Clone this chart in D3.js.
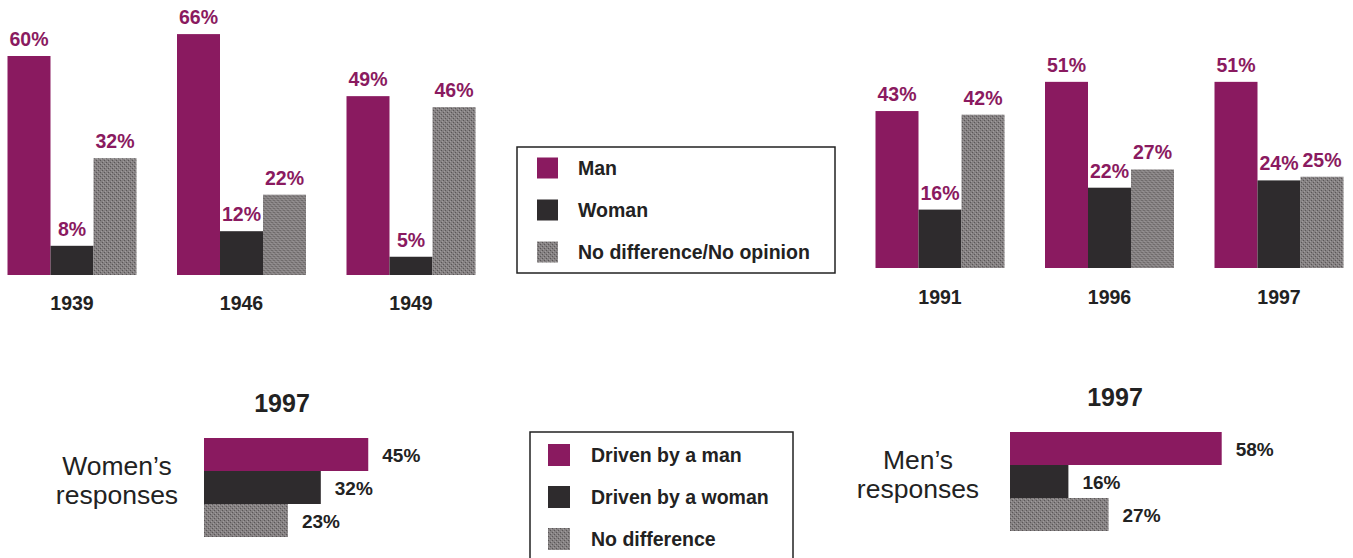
<!DOCTYPE html>
<html>
<head>
<meta charset="utf-8">
<script src="https://cdn.jsdelivr.net/npm/d3@7"></script>
<style>
  body { margin: 0; background: #fff; }
  svg { display: block; font-family: "Liberation Sans", Arial, sans-serif; }
</style>
</head>
<body>
<svg id="chart"></svg>
<script>
// Data
const yearsEarly = ["1939", "1946", "1949"];
const yearsLate = ["1991", "1996", "1997"];
const seriesTop = ["Man", "Woman", "No difference/No opinion"];
const manVals = [60, 66, 49, 43, 51, 51];
const womanVals = [8, 12, 5, 16, 22, 24];
const noDiffVals = [32, 22, 46, 42, 27, 25];

const seriesBottom = ["Driven by a man", "Driven by a woman", "No difference"];
const womenResponses = [45, 32, 23];
const menResponses = [58, 16, 27];

const width = 1353;
const height = 558;
const purple = "#8a1a60";
const dark = "#2e2b2d";

const svg = d3.select("#chart")
  .attr("width", width)
  .attr("height", height)
  .attr("viewBox", `0 0 ${width} ${height}`);

// simple dither texture for the grey bars
const defs = svg.append("defs");
const pat = defs.append("pattern")
  .attr("id", "greyTex")
  .attr("width", 4).attr("height", 4)
  .attr("patternUnits", "userSpaceOnUse");
pat.append("rect").attr("width", 4).attr("height", 4).attr("fill", "#858182");
pat.append("rect").attr("x", 0).attr("y", 0).attr("width", 1).attr("height", 1).attr("fill", "#5a5657");
pat.append("rect").attr("x", 2).attr("y", 2).attr("width", 1).attr("height", 1).attr("fill", "#5a5657");
pat.append("rect").attr("x", 1).attr("y", 3).attr("width", 1).attr("height", 1).attr("fill", "#a09c9d");
pat.append("rect").attr("x", 3).attr("y", 1).attr("width", 1).attr("height", 1).attr("fill", "#a09c9d");
const fills = [purple, dark, "url(#greyTex)"];

// value -> bar length (same for vertical and horizontal bars)
const len = d3.scaleLinear().domain([0, 100]).range([0, 365]);
const inner = d3.scaleBand().domain([0, 1, 2]).range([-64.5, 64.5]);

function columnGroup(years, offset, xRange, baseY, labelY) {
  const gx = d3.scalePoint().domain(years).range(xRange);
  const rows = years.map((yr, i) => ({
    year: yr,
    vals: [manVals[offset + i], womanVals[offset + i], noDiffVals[offset + i]]
  }));

  const g = svg.append("g");
  const grp = g.selectAll("g.year")
    .data(rows)
    .enter().append("g")
    .attr("transform", d => `translate(${gx(d.year)},0)`);

  grp.selectAll("rect")
    .data(d => d.vals)
    .enter().append("rect")
    .attr("x", (d, i) => inner(i))
    .attr("width", inner.bandwidth())
    .attr("y", d => baseY - len(d))
    .attr("height", d => len(d))
    .attr("fill", (d, i) => fills[i]);

  grp.selectAll("text.val")
    .data(d => d.vals)
    .enter().append("text")
    .attr("class", "val")
    .attr("x", (d, i) => inner(i) + inner.bandwidth() / 2)
    .attr("y", d => baseY - len(d) - 10)
    .attr("text-anchor", "middle")
    .attr("font-size", 19.5)
    .attr("font-weight", "bold")
    .attr("fill", purple)
    .text(d => d + "%");

  grp.append("text")
    .attr("x", 0)
    .attr("y", labelY)
    .attr("text-anchor", "middle")
    .attr("font-size", 19.5)
    .attr("font-weight", "bold")
    .attr("fill", "#222")
    .text(d => d.year);
}

columnGroup(yearsEarly, 0, [72, 411], 275, 310);
columnGroup(yearsLate, 3, [940, 1279], 268, 304);

function legend(names, x, y, w, h, swX, swSize, textX, rowYs) {
  const g = svg.append("g");
  g.append("rect")
    .attr("x", x).attr("y", y)
    .attr("width", w).attr("height", h)
    .attr("fill", "none")
    .attr("stroke", "#222")
    .attr("stroke-width", 1.5);
  names.forEach((n, i) => {
    g.append("rect")
      .attr("x", swX).attr("y", rowYs[i] - swSize / 2)
      .attr("width", swSize).attr("height", swSize)
      .attr("fill", fills[i]);
    g.append("text")
      .attr("x", textX).attr("y", rowYs[i] + 7)
      .attr("font-size", 19.5)
      .attr("font-weight", "bold")
      .attr("fill", "#222")
      .text(n);
  });
}

legend(seriesTop, 517, 147, 318, 126, 537, 21, 578, [168, 210, 252]);
legend(seriesBottom, 530, 432, 263, 140, 548, 22, 591, [455, 497, 539]);

function hbars(vals, title, titleX, who, whoX, barX, barY) {
  const g = svg.append("g");
  const band = d3.scaleBand().domain([0, 1, 2]).range([barY, barY + 99]);
  g.append("text")
    .attr("x", titleX).attr("y", barY - 26)
    .attr("text-anchor", "middle")
    .attr("font-size", 25)
    .attr("font-weight", "bold")
    .attr("fill", "#222")
    .text(title);
  who.forEach((t, i) => {
    g.append("text")
      .attr("x", whoX).attr("y", barY + 37 + i * 29)
      .attr("text-anchor", "middle")
      .attr("font-size", 26.5)
      .attr("fill", "#222")
      .text(t);
  });
  g.selectAll("rect.hb")
    .data(vals)
    .enter().append("rect")
    .attr("class", "hb")
    .attr("x", barX)
    .attr("y", (d, i) => band(i))
    .attr("width", d => len(d))
    .attr("height", band.bandwidth())
    .attr("fill", (d, i) => fills[i]);
  g.selectAll("text.hv")
    .data(vals)
    .enter().append("text")
    .attr("class", "hv")
    .attr("x", d => barX + len(d) + 14)
    .attr("y", (d, i) => band(i) + band.bandwidth() / 2 + 7)
    .attr("font-size", 19)
    .attr("font-weight", "bold")
    .attr("fill", "#222")
    .text(d => d + "%");
}

hbars(womenResponses, "1997", 282, ["Women\u2019s", "responses"], 117, 204, 438);
hbars(menResponses, "1997", 1115, ["Men\u2019s", "responses"], 918, 1010, 432);
</script>
</body>
</html>
